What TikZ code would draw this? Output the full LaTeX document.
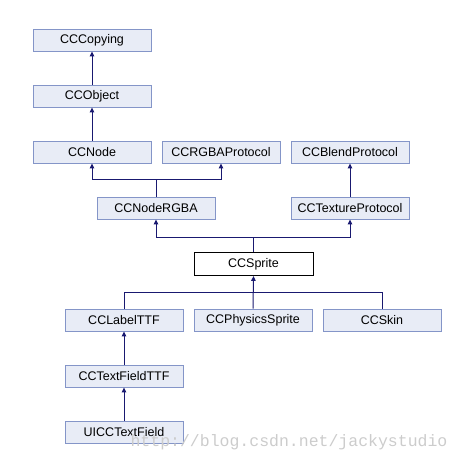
\documentclass[tikz,border=0pt]{standalone}
\usepackage{fontspec}
\setmainfont{Liberation Sans}
\newfontfamily\markfont{Liberation Mono}
\usetikzlibrary{arrows.meta}
\definecolor{boxfill}{HTML}{E8ECF6}
\definecolor{boxline}{HTML}{8495C8}
\definecolor{edgeblue}{HTML}{191970}
\begin{document}
\begin{tikzpicture}[x=1pt, y=-1pt, >={Triangle[length=5pt,width=4.5pt]},
  classbox/.style={rectangle, draw=boxline, fill=boxfill, line width=0.9pt, minimum width=118pt, minimum height=22pt, inner sep=0pt, font=\fontsize{12.5}{14}\selectfont},
  mainbox/.style={rectangle, draw=black, fill=white, line width=0.9pt, minimum width=119pt, minimum height=23pt, inner sep=0pt, font=\fontsize{12.5}{14}\selectfont},
  inherit/.style={->, draw=edgeblue, line width=1pt}]
\useasboundingbox (0,0) rectangle (463,461);
% Class boxes
\node (copying) [classbox] at (92,40) {CCCopying};
\node (object) [classbox] at (92,96) {CCObject};
\node (ccnode) [classbox] at (92,152) {CCNode};
\node (rgbaproto) [classbox] at (221,152) {CCRGBAProtocol};
\node (blendproto) [classbox] at (350,152) {CCBlendProtocol};
\node (nodergba) [classbox] at (156,208) {CCNodeRGBA};
\node (textureproto) [classbox] at (350,208) {CCTextureProtocol};
\node (sprite) [mainbox] at (253.5,264) {CCSprite};
\node (labelttf) [classbox] at (124,320) {CCLabelTTF};
\node (physics) [classbox] at (253,320) {CCPhysicsSprite};
\node (skin) [classbox] at (382,320) {CCSkin};
\node (textfield) [classbox] at (124,376) {CCTextFieldTTF};
\node (uitextfield) [classbox] at (124,432) {UICCTextField};

% Single inheritance
\draw [inherit] (object) -- (copying);
\draw [inherit] (ccnode) -- (object);
\draw [inherit] (textureproto) -- (blendproto);
\draw [inherit] (textfield) -- (labelttf);
\draw [inherit] (uitextfield) -- (textfield);

% Two parents: joined above the child
\draw [edgeblue, line width=1pt] (nodergba.north) -- ++(0,-17) coordinate (jrgba);
\draw [inherit] (jrgba) -| (ccnode.south);
\draw [inherit] (jrgba) -| (rgbaproto.south);
\draw [edgeblue, line width=1pt] (sprite.north) -- ++(0,-15) coordinate (jsprite);
\draw [inherit] (jsprite) -| (nodergba.south);
\draw [inherit] (jsprite) -| (textureproto.south);

% Three children of CCSprite
\draw [inherit] (physics.north) -- (sprite.south);
\draw [edgeblue, line width=1pt] (labelttf.north) |- ++(0,-16) -| (skin.north);

% Watermark
\node (mark) [text=black!20, font=\markfont\fontsize{16.5}{18}\selectfont] at (289,442) {http://blog.csdn.net/jackystudio};
\end{tikzpicture}
\end{document}
